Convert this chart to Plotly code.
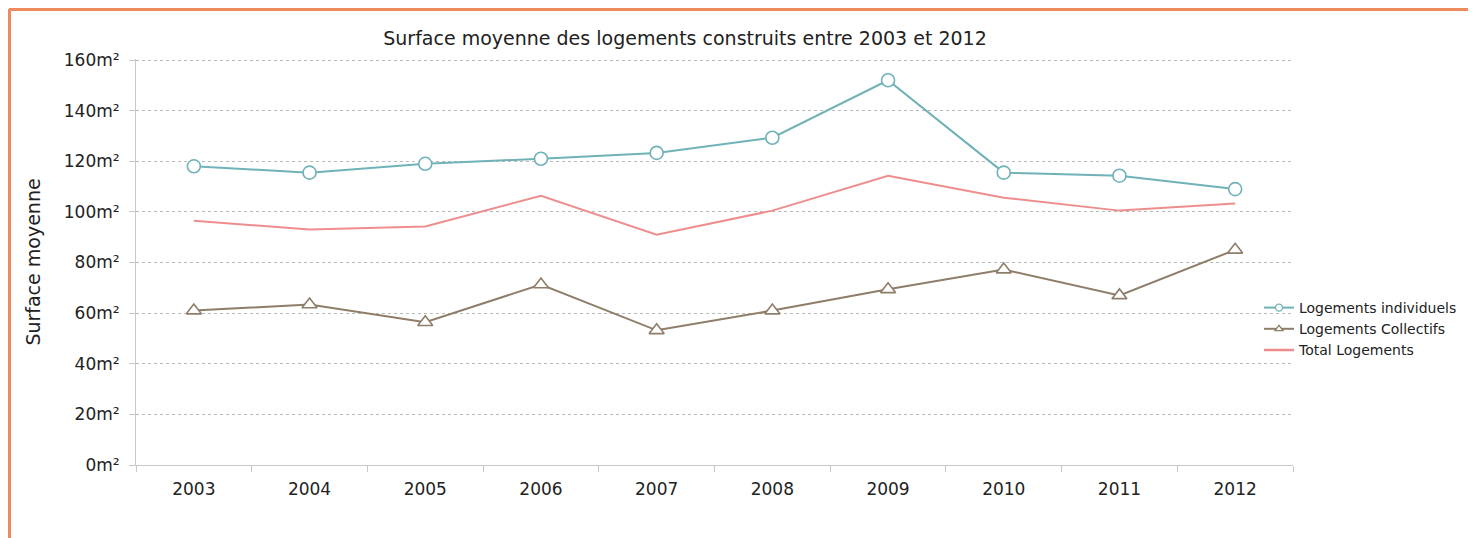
import plotly.graph_objects as go

years = ["2003", "2004", "2005", "2006", "2007", "2008", "2009", "2010", "2011", "2012"]
individuels = [118, 115.5, 119, 121, 123.3, 129.3, 152, 115.5, 114.3, 109]
collectifs = [61, 63.4, 56.4, 71.3, 53.2, 61, 69.4, 77.2, 67, 85]
total = [96.5, 93, 94.2, 106.4, 91, 100.5, 114.3, 105.6, 100.5, 103.3]
y_tickvals = [0, 20, 40, 60, 80, 100, 120, 140, 160]
y_ticktext = ["0m²", "20m²", "40m²", "60m²", "80m²", "100m²", "120m²", "140m²", "160m²"]

FONT = "DejaVu Sans"
TEAL = "#6fb2b8"
BROWN = "#8e7d68"
PINK = "#ef8d8d"

fig = go.Figure()
fig.add_trace(go.Scatter(
    x=years, y=individuels, name="Logements individuels", mode="lines+markers", showlegend=False,
    line=dict(color=TEAL, width=2),
    marker=dict(symbol="circle", size=13, color="white", line=dict(color=TEAL, width=1.6)),
))
fig.add_trace(go.Scatter(
    x=years, y=collectifs, name="Logements Collectifs", mode="lines+markers", showlegend=False,
    line=dict(color=BROWN, width=2),
    marker=dict(symbol="triangle-up", size=13, color="white", line=dict(color=BROWN, width=1.6)),
))
fig.add_trace(go.Scatter(
    x=years, y=total, name="Total Logements", mode="lines", showlegend=False,
    line=dict(color=PINK, width=2),
))
# legend entries with small markers
fig.add_trace(go.Scatter(
    x=[None], y=[None], name="Logements individuels", mode="lines+markers",
    line=dict(color=TEAL, width=2),
    marker=dict(symbol="circle", size=7, color="white", line=dict(color=TEAL, width=1.3)),
))
fig.add_trace(go.Scatter(
    x=[None], y=[None], name="Logements Collectifs", mode="lines+markers",
    line=dict(color=BROWN, width=2),
    marker=dict(symbol="triangle-up", size=7, color="white", line=dict(color=BROWN, width=1.3)),
))
fig.add_trace(go.Scatter(
    x=[None], y=[None], name="Total Logements", mode="lines",
    line=dict(color=PINK, width=2.5),
))

OFF = 8  # page body margin
L, R, T, B = 136 - OFF, 1293 - OFF, 59 - OFF, 465 - OFF
W, H = 1476, 538
pw, ph = R - L, B - T
def px(x):
    return (x - OFF - L) / pw
def py(y):
    return (B - (y - OFF)) / ph

fig.update_layout(
    width=W, height=H,
    margin=dict(l=L, r=W - R, t=T, b=H - B, pad=0),
    paper_bgcolor="white", plot_bgcolor="white",
    font=dict(family=FONT, size=17, color="#222222"),
    title=dict(text="Surface moyenne des logements construits entre 2003 et 2012",
               x=px(685), xref="paper", xanchor="center",
               y=1 - (38 - OFF) / H, yref="container", yanchor="middle",
               font=dict(family=FONT, size=19, color="#222222")),
    showlegend=True,
    legend=dict(x=px(1259), y=py(292), xanchor="left", yanchor="top",
                font=dict(family=FONT, size=14, color="#222222"),
                bgcolor="rgba(0,0,0,0)", tracegroupgap=0, itemwidth=30),
    xaxis=dict(
        type="category", range=[-0.5, 9.5],
        showline=True, linecolor="#c8c8c8", linewidth=1,
        ticks="outside", ticklen=6, tickcolor="#c8c8c8", tickson="boundaries",
        ticklabelstandoff=9,
        showgrid=False, tickfont=dict(family=FONT, size=17, color="#222222"),
    ),
    yaxis=dict(
        range=[0, 160.4], tickvals=y_tickvals, ticktext=y_ticktext,
        showline=True, linecolor="#c8c8c8", linewidth=1,
        ticks="outside", ticklen=6, tickcolor="#c8c8c8",
        ticklabelstandoff=6,
        showgrid=True, gridcolor="#b8b8b8", griddash="dot", gridwidth=1,
        zeroline=False,
        tickfont=dict(family=FONT, size=17, color="#222222"),
        title=dict(text="Surface moyenne", font=dict(family=FONT, size=19, color="#222222"), standoff=18),
    ),
    shapes=[
        dict(type="line", xref="paper", yref="paper", x0=px(9), x1=px(W + 20), y0=py(9.5), y1=py(9.5),
             line=dict(color="#ef8a5e", width=3), layer="above"),
        dict(type="line", xref="paper", yref="paper", x0=px(9.5), x1=px(9.5), y0=py(9), y1=py(H + 20),
             line=dict(color="#ef8a5e", width=3), layer="above"),
    ],
)

fig.write_html("out.html")
